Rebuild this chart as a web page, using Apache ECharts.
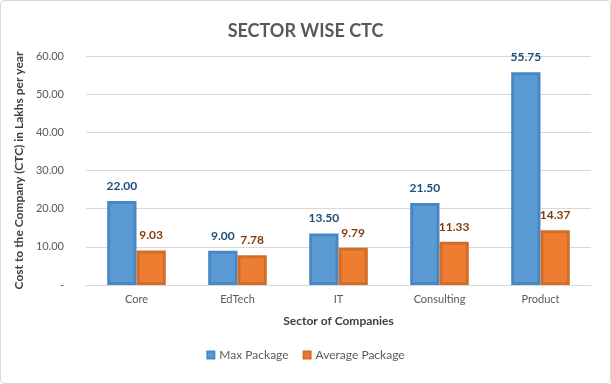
<!DOCTYPE html>
<html><head><meta charset="utf-8">
<script src="https://cdn.jsdelivr.net/npm/echarts@6/dist/echarts.min.js"></script>
<style>html,body{margin:0;padding:0;background:#fff}#c{width:609px;height:382px;border:1px solid #d9d9d9;border-radius:4px}</style>
</head><body><div id="c"></div>
<script>
const categories = ["Core", "EdTech", "IT", "Consulting", "Product"];
const maxPackage = [22.00, 9.00, 13.50, 21.50, 55.75];
const avgPackage = [9.03, 7.78, 9.79, 11.33, 14.37];
const seriesNames = ["Max Package", "Average Package"];

const FONT = "Lato, 'Open Sans', sans-serif";
const chart = echarts.init(document.getElementById('c'));
chart.setOption({
  animation: false,
  textStyle: { fontFamily: FONT },
  title: { text: "SECTOR WISE CTC", left: 'center', top: 16,
    textStyle: { fontSize: 18, fontWeight: 'bold', color: '#595959', fontFamily: FONT } },
  grid: { left: 85, right: 19, top: 55, bottom: 98 },
  legend: { bottom: 17, left: 'center', itemWidth: 7, itemHeight: 7, itemGap: 14,
    icon: 'rect', textStyle: { fontSize: 12, color: '#595959', fontFamily: FONT },
    data: seriesNames },
  xAxis: { type: 'category', data: categories,
    name: "Sector of Companies", nameLocation: 'middle', nameGap: 30,
    nameTextStyle: { fontSize: 12, fontWeight: 'bold', color: '#404040' },
    axisLine: { lineStyle: { color: '#d9d9d9' } }, axisTick: { show: false },
    axisLabel: { fontSize: 11, color: '#595959', margin: 9 } },
  yAxis: { type: 'value', min: 0, max: 60, interval: 10,
    name: "Cost to the Company (CTC) in Lakhs per year", nameLocation: 'middle', nameGap: 61,
    nameTextStyle: { fontSize: 12, fontWeight: 'bold', color: '#404040' },
    axisLine: { show: false }, axisTick: { show: false },
    splitLine: { lineStyle: { color: '#d9d9d9' } },
    axisLabel: { fontSize: 11, color: '#595959', margin: 22,
      formatter: v => v === 0 ? '-' : v.toFixed(2) } },
  series: [
    { name: seriesNames[0], type: 'bar', data: maxPackage, barGap: '0%', barCategoryGap: '42%',
      itemStyle: { color: '#5b9bd5', borderColor: '#4a86c3', borderWidth: 3 },
      label: { show: true, position: 'top', distance: 9, fontSize: 12, fontWeight: 'bold',
        color: '#1f4e79', formatter: p => p.value.toFixed(2) } },
    { name: seriesNames[1], type: 'bar', data: avgPackage,
      itemStyle: { color: '#ed7d31', borderColor: '#d26d29', borderWidth: 3 },
      label: { show: true, position: 'top', distance: 9, fontSize: 12, fontWeight: 'bold',
        color: '#843c0c', formatter: p => p.value.toFixed(2) } }
  ]
});
</script></body></html>
